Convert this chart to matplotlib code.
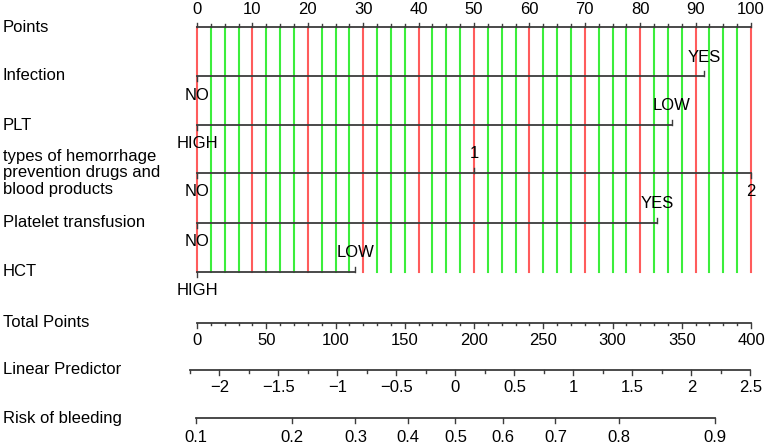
import matplotlib
matplotlib.use("Agg")
import matplotlib.pyplot as plt
import matplotlib.transforms as mtransforms
import numpy as np

plt.rcParams['font.family'] = ['Liberation Sans', 'DejaVu Sans']

# nomogram content
row_names = ["Points", "Infection", "PLT",
             "types of hemorrhage\nprevention drugs and\nblood products",
             "Platelet transfusion", "HCT",
             "Total Points", "Linear Predictor", "Risk of bleeding"]
# variable levels and their point values
infection_levels = ["NO", "YES"]
infection_points = [0, 91.5]
plt_levels = ["HIGH", "LOW"]
plt_points = [0, 85.7]
types_levels = ["NO", "1", "2"]
types_points = [0, 50, 100]
transfusion_levels = ["NO", "YES"]
transfusion_points = [0, 83.0]
hct_levels = ["HIGH", "LOW"]
hct_points = [0, 28.6]

points_ticks = np.arange(0, 101, 10)
total_ticks = np.arange(0, 401, 50)
lp_ticks = [-2, -1.5, -1, -0.5, 0, 0.5, 1, 1.5, 2, 2.5]
risk_ticks = [0.1, 0.2, 0.3, 0.4, 0.5, 0.6, 0.7, 0.8, 0.9]
lp_at_zero = -2.19        # linear predictor at 0 total points
lp_per_point = 4.695 / 400

W, H = 767, 446
fig = plt.figure(figsize=(W / 100, H / 100), dpi=100)
ax = fig.add_axes([0, 0, 1, 1])
px = 5.54  # pixels per point
ax.set_xlim(-197 / px, (W - 197) / px)
ax.set_ylim(H, 0)
ax.axis("off")

lc = "#3c3c3c"
fs = 12
left = mtransforms.blended_transform_factory(ax.transAxes, ax.transData)

row_y = [27, 76, 125, 173, 222.5, 271.5, 322.5, 370, 418]
for name, y in zip(row_names, row_y):
    ax.text(3 / W, y, name, transform=left, ha="left", va="center",
            fontsize=fs, linespacing=1.1)

# grid lines
for v in np.arange(0, 100.01, 2.5):
    col = "#ff5c5c" if v % 10 == 0 else "#3cee3c"
    ax.plot([v, v], [27, 271.5], color=col, lw=1.5, zorder=1)

# points axis
ax.plot([0, 100], [27, 27], color=lc, lw=1.3, zorder=3)
for v in np.arange(0, 100.01, 2.5):
    ln = 4.5 if v % 10 == 0 else 3
    ax.plot([v, v], [27, 27 - ln], color=lc, lw=1, zorder=3)
for v in points_ticks:
    ax.text(v, 10, str(v), ha="center", va="center", fontsize=fs)


def var_axis(y, levels, pts, sides):
    ax.plot([min(pts), max(pts)], [y, y], color=lc, lw=1.3, zorder=3)
    for lab, p, s in zip(levels, pts, sides):
        d = -1 if s == "up" else 1
        ax.plot([p, p], [y, y + 5 * d], color=lc, lw=1, zorder=3)
        ax.text(p, y + 19 * d, lab, ha="center", va="center", fontsize=fs, zorder=4)


var_axis(76, infection_levels, infection_points, ["down", "up"])
var_axis(125, plt_levels, plt_points, ["down", "up"])
var_axis(173, types_levels, types_points, ["down", "up", "down"])
var_axis(222.5, transfusion_levels, transfusion_points, ["down", "up"])
var_axis(271.5, hct_levels, hct_points, ["down", "up"])

# total points
y = 322.5
ax.plot([0, 100], [y, y], color=lc, lw=1.3)
for t in np.arange(0, 401, 10):
    ln = 5 if t % 50 == 0 else 2.5
    ax.plot([t / 4, t / 4], [y, y + ln], color=lc, lw=1)
for t in total_ticks:
    ax.text(t / 4, y + 18, str(t), ha="center", va="center", fontsize=fs)


def lp_to_x(lp):
    return (lp - lp_at_zero) / lp_per_point / 4


def fmt(v):
    s = ("%g" % v)
    return s.replace("-", "\u2212")


# linear predictor
y = 370
ax.plot([lp_to_x(-2.25), lp_to_x(2.5)], [y, y], color=lc, lw=1.3)
for v in np.arange(-2.25, 2.51, 0.25):
    ln = 5 if abs(v * 2 - round(v * 2)) < 1e-9 else 2.5
    ax.plot([lp_to_x(v)] * 2, [y, y + ln], color=lc, lw=1)
for v in lp_ticks:
    ax.text(lp_to_x(v), y + 18, fmt(v), ha="center", va="center", fontsize=fs)

# risk
y = 418
rx = [lp_to_x(np.log(r / (1 - r))) for r in risk_ticks]
ax.plot([rx[0], rx[-1]], [y, y], color=lc, lw=1.3)
for r, x in zip(risk_ticks, rx):
    ax.plot([x, x], [y, y + 5], color=lc, lw=1)
    ax.text(x, y + 19, "%g" % r, ha="center", va="center", fontsize=fs)

fig.savefig("out.png", dpi=100)
